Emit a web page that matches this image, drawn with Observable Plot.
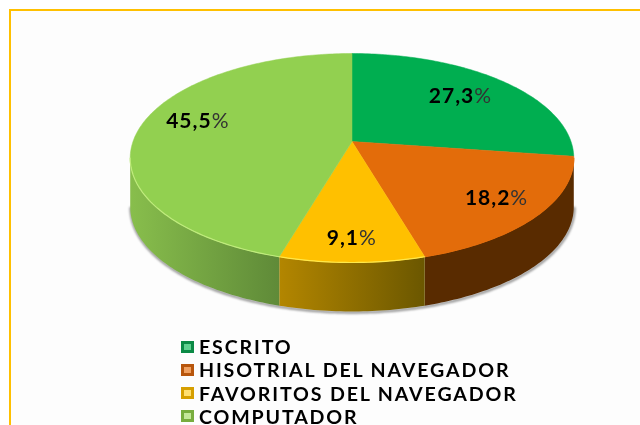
<!DOCTYPE html>
<html>
<head>
<meta charset="utf-8">
<script src="https://cdn.jsdelivr.net/npm/d3@7"></script>
<script src="https://cdn.jsdelivr.net/npm/@observablehq/plot@0.6"></script>
<style>
html,body{margin:0;padding:0;background:#fff;width:640px;height:425px;overflow:hidden;position:relative}
#frame{position:absolute;left:9px;top:9px;width:660px;height:460px;border:2px solid #FFC000;box-sizing:border-box;background:#fdfdfd}
#chart{position:absolute;left:0;top:0}
#legend{position:absolute;left:181px;top:339px;font-family:Lato,sans-serif;font-weight:700;font-size:19.6px;color:#000;filter:blur(.45px)}
.row{height:15px;line-height:15px;margin-bottom:8.3px;white-space:nowrap;display:flex;align-items:center}
.row:last-child{margin-bottom:0}
.sw{display:inline-block;width:13px;height:12px;margin-right:5px;box-sizing:border-box;border:3px solid}
.row span.t{letter-spacing:1.85px}
</style>
</head>
<body>
<div id="frame"></div>
<div id="chart"></div>
<div id="legend"></div>
<script>
const categories = ["ESCRITO", "HISOTRIAL DEL NAVEGADOR", "FAVORITOS DEL NAVEGADOR", "COMPUTADOR"];
const shares = [27.3, 18.2, 9.1, 45.5];
const topColors = ["#00AE50", "#E36C0A", "#FFC000", "#92D050"];
const rimColors = ["#00AE50", "#E36C0A", "#FFE84A", "#BFEB7C"];
const sideFills = ["#00702f", "#592B00", "url(#sideYellow)", "url(#sideGreen)"];
const swatchEdge = ["#0b8a45", "#b8560c", "#d69f00", "#78ad3e"];
const swatchCore = ["#5fd08f", "#f0a060", "#ffdf70", "#c4e89a"];
const labelNudge = [[-8, 4], [6, -1], [-1, 3], [22, -9]];

const B = 0.158, DEPTH = 0.48, STEP = Math.PI / 180;
const total = d3.sum(shares);
const cum = d3.cumsum(shares);
const ang = v => 2 * Math.PI * v / total;
const slices = shares.map((v, i) => ({i, a0: ang(cum[i] - v), a1: ang(cum[i])}));
const project = (a, r = 1, depth = 0) => {
  const u = r * Math.sin(a), v = r * Math.cos(a), k = 1 + B * v;
  return {X: u / k, Y: v / k - depth};
};
const arc = (a0, a1, depth = 0) => {
  const n = Math.max(2, Math.ceil((a1 - a0) / STEP));
  return d3.range(n + 1).map(j => project(a0 + (a1 - a0) * j / n, 1, depth));
};
const silh = Math.acos(-B);
const visible = slices
  .map(s => ({...s, a0: Math.max(s.a0, silh), a1: Math.min(s.a1, 2 * Math.PI - silh)}))
  .filter(s => s.a1 > s.a0);

const common = {x: "X", y: "Y"};
const labels = slices.map((s, i) => {
  const p = project((s.a0 + s.a1) / 2, 0.8);
  return {...p, num: shares[i].toFixed(1).replace(".", ",")};
});

const marks = [];
// soft shadow below the side wall
marks.push(Plot.line(arc(silh, 2 * Math.PI - silh, DEPTH), {
  ...common, stroke: "#666", strokeWidth: 2.5, strokeOpacity: .7, dx: 0.5, dy: 1, imageFilter: "blur(1px)"
}));
// side wall
visible.forEach(s => {
  marks.push(Plot.line([...arc(s.a0, s.a1), ...arc(s.a0, s.a1, DEPTH).reverse()], {
    ...common, fill: sideFills[s.i], stroke: "none"
  }));
});
// top slices
slices.forEach(s => {
  marks.push(Plot.line([{X: 0, Y: 0}, ...arc(s.a0, s.a1), {X: 0, Y: 0}], {
    ...common, fill: topColors[s.i], stroke: topColors[s.i], strokeWidth: .5
  }));
});
// front rim highlight
visible.forEach(s => {
  marks.push(Plot.line(arc(s.a0, s.a1), {
    ...common, stroke: rimColors[s.i], strokeWidth: 1.2, imageFilter: "blur(.5px)"
  }));
});
// value labels
labels.forEach((d, i) => {
  const [dx, dy] = labelNudge[i];
  const font = {fontFamily: "Lato, sans-serif", fontSize: 21, fill: "#000", imageFilter: "blur(.35px)"};
  marks.push(Plot.text([d], {...common, ...font, text: "num", fontWeight: 700, textAnchor: "end", dx: dx + 8, dy}));
  marks.push(Plot.text([d], {...common, ...font, text: () => "%", fontWeight: 400, fill: "#333", textAnchor: "start", dx: dx + 8, dy}));
});

const plot = Plot.plot({
  width: 640, height: 335,
  margin: 0,
  style: {background: "transparent", letterSpacing: "1px"},
  x: {domain: [-1, 1], range: [132.5, 570.5], axis: null},
  y: {domain: [-1, 1], range: [242.9, 39.1], axis: null},
  marks
});

const svgNS = "http://www.w3.org/2000/svg";
const defs = document.createElementNS(svgNS, "defs");
const addGrad = (id, from, to) => {
  const g = document.createElementNS(svgNS, "linearGradient");
  g.setAttribute("id", id);
  [[0, from], [1, to]].forEach(([o, c]) => {
    const st = document.createElementNS(svgNS, "stop");
    st.setAttribute("offset", o);
    st.setAttribute("stop-color", c);
    g.appendChild(st);
  });
  defs.appendChild(g);
};
addGrad("sideYellow", "#B38600", "#6B5700");
addGrad("sideGreen", "#88BE4C", "#5F8A38");
plot.insertBefore(defs, plot.firstChild);
document.getElementById("chart").appendChild(plot);

const legend = document.getElementById("legend");
categories.forEach((c, i) => {
  const row = document.createElement("div");
  row.className = "row";
  const sw = document.createElement("span");
  sw.className = "sw";
  sw.style.borderColor = swatchEdge[i];
  sw.style.background = swatchCore[i];
  const t = document.createElement("span");
  t.className = "t";
  t.textContent = c;
  row.append(sw, t);
  legend.appendChild(row);
});
</script>
</body>
</html>
